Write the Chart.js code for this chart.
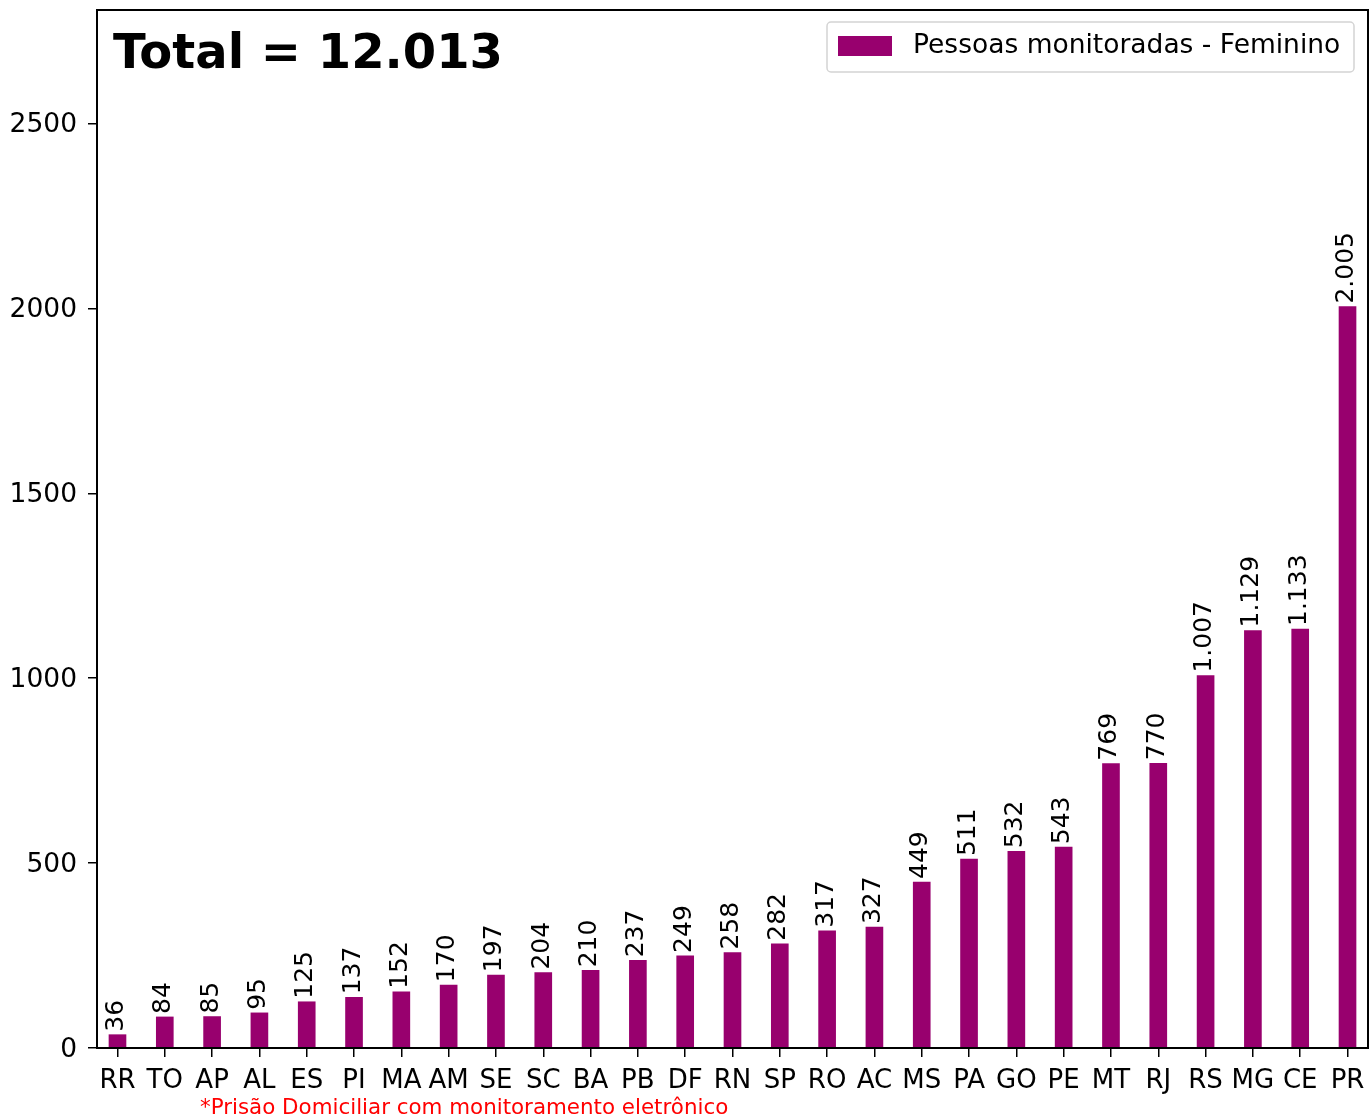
<!DOCTYPE html>
<html lang="pt">
<head>
<meta charset="UTF-8">
<title>Pessoas monitoradas - Feminino</title>
<script src="https://cdn.jsdelivr.net/npm/chart.js"></script>
<style>
    * { margin: 0; padding: 0; }
    body { background: #fff; }
    #wrap { width: 1372px; height: 1116px; }
</style>
</head>
<body>
<div id="wrap"><canvas id="grafico" width="1372" height="1116"></canvas></div>
<script>
// dados por UF
const estados = ['RR', 'TO', 'AP', 'AL', 'ES', 'PI', 'MA', 'AM', 'SE', 'SC', 'BA', 'PB', 'DF', 'RN',
    'SP', 'RO', 'AC', 'MS', 'PA', 'GO', 'PE', 'MT', 'RJ', 'RS', 'MG', 'CE', 'PR'];
const feminino = [36, 84, 85, 95, 125, 137, 152, 170, 197, 204, 210, 237, 249, 258,
    282, 317, 327, 449, 511, 532, 543, 769, 770, 1007, 1129, 1133, 2005];
const yTicks = [0, 500, 1000, 1500, 2000, 2500];

const total = feminino.reduce((a, b) => a + b, 0);
const fonte = 'DejaVu Sans, sans-serif';
const cor = '#98006e';

// separador de milhar com ponto
function fmt(v) {
    return String(v).replace(/\B(?=(\d{3})+(?!\d))/g, '.');
}

// moldura, título, legenda, rótulos e nota
const extras = {
    id: 'extras',
    afterDatasetsDraw(chart) {
        const ctx = chart.ctx;
        const meta = chart.getDatasetMeta(0);
        ctx.save();
        ctx.fillStyle = '#000';
        ctx.font = '25px ' + fonte;
        ctx.textAlign = 'left';
        ctx.textBaseline = 'middle';
        meta.data.forEach((bar, i) => {
            ctx.save();
            ctx.translate(bar.x - 1, bar.y - 3);
            ctx.rotate(-Math.PI / 2);
            ctx.fillText(fmt(feminino[i]), 0, 0);
            ctx.restore();
        });
        ctx.restore();
    },
    afterDraw(chart) {
        const ctx = chart.ctx;
        const a = chart.chartArea;
        ctx.save();
        ctx.strokeStyle = '#000';
        ctx.lineWidth = 2;
        ctx.strokeRect(a.left, a.top, a.right - a.left, a.bottom - a.top);

        // título
        ctx.fillStyle = '#000';
        ctx.font = 'bold 48px ' + fonte;
        ctx.textBaseline = 'alphabetic';
        ctx.textAlign = 'left';
        ctx.fillText('Total = ' + fmt(total), 113, 68);

        // legenda
        ctx.fillStyle = 'rgba(255,255,255,0.8)';
        ctx.strokeStyle = '#d4d4d4';
        ctx.lineWidth = 1.5;
        ctx.beginPath();
        ctx.roundRect(827, 22, 527, 50, 4);
        ctx.fill();
        ctx.stroke();
        ctx.fillStyle = cor;
        ctx.fillRect(838, 36, 54, 20);
        ctx.fillStyle = '#000';
        ctx.font = '26.5px ' + fonte;
        ctx.textBaseline = 'middle';
        ctx.fillText(chart.data.datasets[0].label, 913, 46);

        // nota
        ctx.fillStyle = '#ff0000';
        ctx.font = '21.4px ' + fonte;
        ctx.textBaseline = 'alphabetic';
        ctx.fillText('*Prisão Domiciliar com monitoramento eletrônico', 200, 1114);
        ctx.restore();
    }
};

new Chart(document.getElementById('grafico'), {
    type: 'bar',
    data: {
        datasets: [{
            label: 'Pessoas monitoradas - Feminino',
            data: feminino.map((v, i) => ({ x: i, y: v })),
            backgroundColor: cor,
            barThickness: 17
        }]
    },
    options: {
        responsive: false,
        animation: false,
        layout: { padding: { left: 0, right: 4, top: 10, bottom: 0 } },
        plugins: {
            legend: { display: false },
            tooltip: { enabled: false }
        },
        scales: {
            x: {
                type: 'linear',
                min: -0.433,
                max: estados.length - 1 + 0.433,
                offset: false,
                afterBuildTicks(scale) {
                    scale.ticks = estados.map((_, i) => ({ value: i }));
                },
                afterFit(scale) {
                    scale.height = 1116 - 1048;
                    scale.paddingLeft = 0;
                    scale.paddingRight = 0;
                },
                ticks: {
                    autoSkip: false,
                    maxRotation: 0,
                    padding: 9,
                    color: '#000',
                    font: { family: fonte, size: 26 },
                    callback: (v) => estados[v] ?? ''
                },
                grid: { offset: false, drawOnChartArea: false, drawTicks: true, tickLength: 9, color: '#000', lineWidth: 1.5 },
                border: { display: true, color: '#000', width: 2 }
            },
            y: {
                min: 0,
                max: 2807,
                afterBuildTicks(scale) {
                    scale.ticks = yTicks.map(v => ({ value: v }));
                },
                afterFit(scale) {
                    scale.width = 97;
                    scale.paddingTop = 0;
                    scale.paddingBottom = 0;
                },
                ticks: {
                    padding: 11,
                    labelOffset: 2,
                    color: '#000',
                    font: { family: fonte, size: 26.5 },
                    callback: (v) => String(v)
                },
                grid: { drawOnChartArea: false, drawTicks: true, tickLength: 9, color: '#000', lineWidth: 1.5 },
                border: { display: true, color: '#000', width: 2 }
            }
        }
    },
    plugins: [extras]
});
</script>
</body>
</html>
